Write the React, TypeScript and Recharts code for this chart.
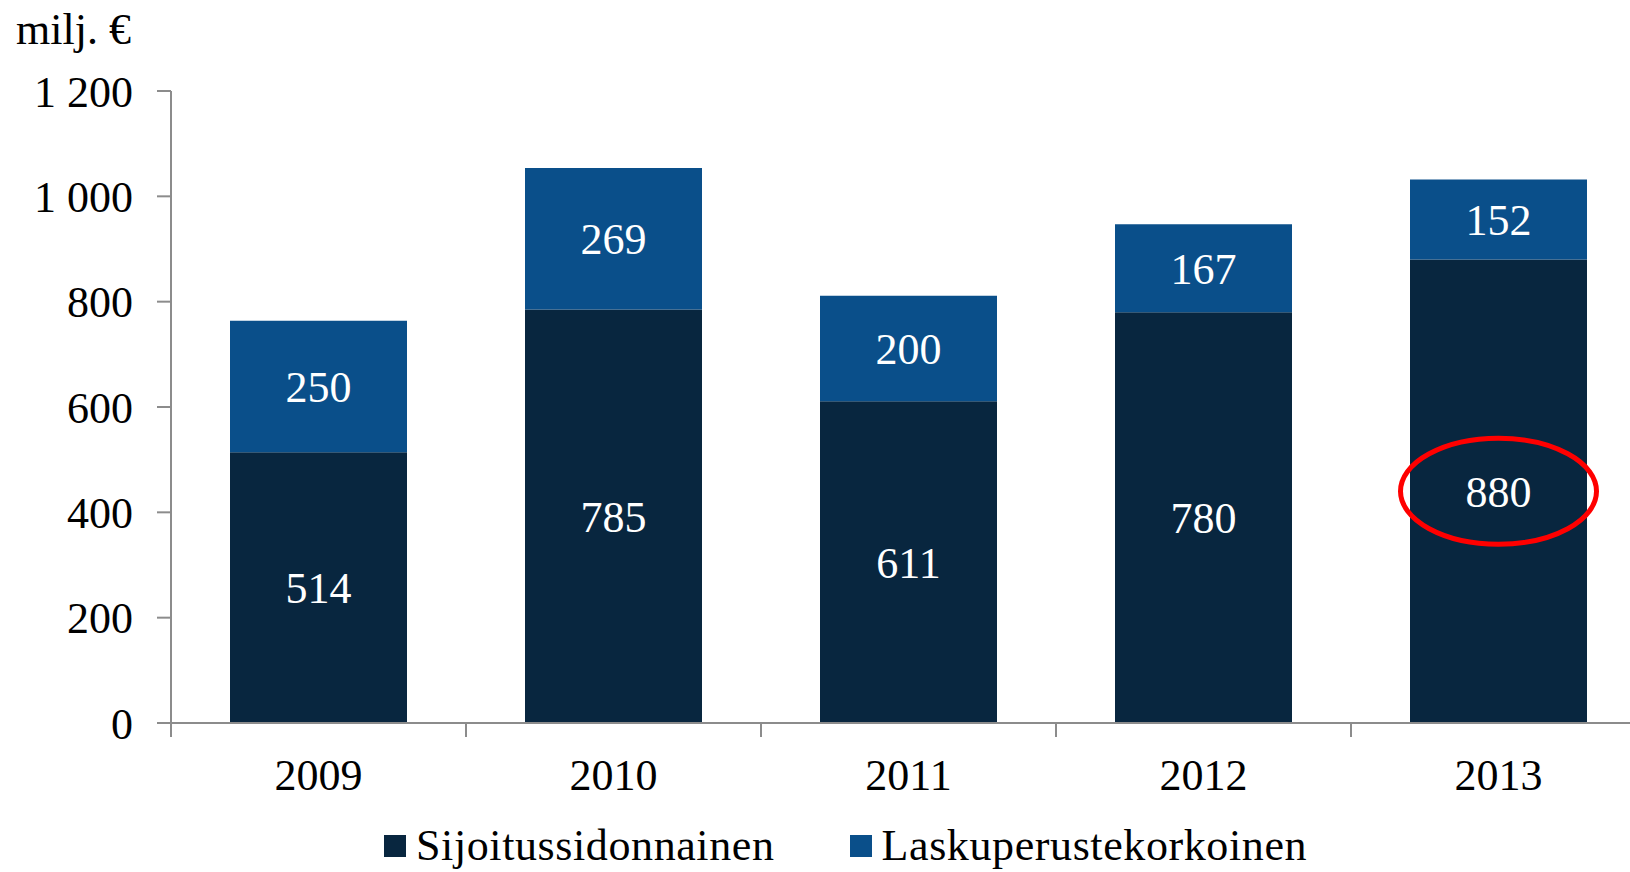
import React from "react";
import { BarChart, Bar, XAxis, YAxis, LabelList, Legend, ReferenceDot } from "recharts";

const years = ["2009", "2010", "2011", "2012", "2013"];
const sijoitus = [514, 785, 611, 780, 880];
const laskuperuste = [250, 269, 200, 167, 152];
const yTicks = [0, 200, 400, 600, 800, 1000, 1200];
const seriesNames = ["Sijoitussidonnainen", "Laskuperustekorkoinen"];

const data = years.map((year, i) => ({
  year,
  sijoitus: sijoitus[i],
  laskuperuste: laskuperuste[i],
}));

const FONT = "'Liberation Serif', 'DejaVu Serif', serif";
const DARK = "#08263f";
const BLUE = "#0a4f8a";
const AXIS = "#8c8c8c";
const FS = 44;

// "1 200" style thousands
const fmt = (v: number) =>
  v >= 1000 ? `${Math.floor(v / 1000)} ${String(v % 1000).padStart(3, "0")}` : String(v);

function XTick(props: any) {
  const { x, y, payload } = props;
  const off = payload?.offset ?? 0;
  return (
    <g>
      {/* excel-style ticks sit between categories */}
      <line x1={x - off} x2={x - off} y1={y - 36} y2={y - 22} stroke={AXIS} strokeWidth={2} />
      <text x={x} y={y} dy="0.71em" textAnchor="middle" fontFamily={FONT} fontSize={FS} fill="#000">
        {payload.value}
      </text>
    </g>
  );
}

function LegendBox(props: any) {
  const items = [...(props.payload ?? [])].sort(
    (a: any, b: any) => seriesNames.indexOf(a.value) - seriesNames.indexOf(b.value)
  );
  return (
    <div style={{ display: "flex", alignItems: "center", height: 42, paddingLeft: 384 }}>
      {items.map((it: any, i: number) => (
        <div key={it.value} style={{ display: "flex", alignItems: "center", marginLeft: i ? 75 : 0 }}>
          <span style={{ width: 22, height: 22, background: it.color, display: "inline-block", marginRight: 10 }} />
          <span
            style={{ fontFamily: FONT, fontSize: FS, color: "#000", lineHeight: "42px", letterSpacing: 0.6 }}
          >
            {it.value}
          </span>
        </div>
      ))}
    </div>
  );
}

export default function App() {
  return (
    <div style={{ position: "absolute", left: 0, top: 0, width: 1630, height: 872, overflow: "hidden", background: "#fff" }}>
      <svg width={200} height={60} style={{ position: "absolute", left: 0, top: 0 }}>
        <text x={16} y={44} fontFamily={FONT} fontSize={FS} fill="#000">milj. €</text>
      </svg>
      <BarChart
        width={1660}
        height={872}
        data={data}
        margin={{ top: 91, right: 14, left: 0, bottom: 47 }}
        barCategoryGap="20%"
      >
        <XAxis
          dataKey="year"
          height={60}
          axisLine={{ stroke: AXIS, strokeWidth: 2 }}
          tickLine={false}
          tickSize={14}
          tickMargin={22}
          tick={<XTick />}
          interval={0}
        />
        <YAxis
          width={171}
          domain={[0, 1200]}
          ticks={yTicks}
          tickFormatter={fmt}
          axisLine={{ stroke: AXIS, strokeWidth: 2 }}
          tickLine={{ stroke: AXIS, strokeWidth: 2 }}
          tickSize={14}
          tickMargin={24}
          tick={{ fontFamily: FONT, fontSize: FS, fill: "#000" }}
        />
        <Legend
          content={<LegendBox />}
          verticalAlign="bottom"
          wrapperStyle={{ top: 825, left: 0, bottom: "auto", width: 1630 }}
        />
        <Bar dataKey="sijoitus" name={seriesNames[0]} stackId="a" fill={DARK} isAnimationActive={false}>
          <LabelList dataKey="sijoitus" position="center" fill="#fff" fontFamily={FONT} fontSize={FS} />
        </Bar>
        <Bar dataKey="laskuperuste" name={seriesNames[1]} stackId="a" fill={BLUE} isAnimationActive={false}>
          <LabelList dataKey="laskuperuste" position="center" fill="#fff" fontFamily={FONT} fontSize={FS} />
        </Bar>
        <ReferenceDot
          x="2013"
          y={440}
          r={0}
          shape={(p: any) => (
            <ellipse cx={p.cx} cy={p.cy} rx={98} ry={53} fill="none" stroke="#ff0000" strokeWidth={5} />
          )}
        />
      </BarChart>
    </div>
  );
}
